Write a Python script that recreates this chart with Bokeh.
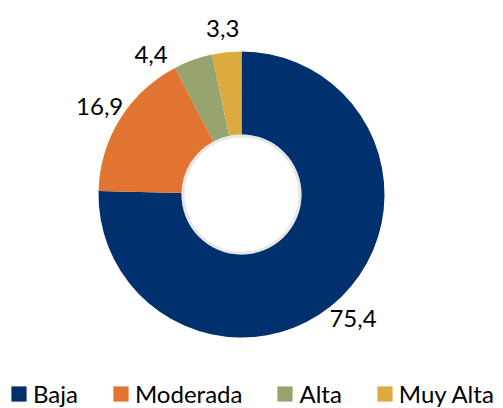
import numpy as np
from bokeh.plotting import figure
from bokeh.models import ColumnDataSource, Legend, LegendItem, Range1d
from bokeh.embed import file_html
from bokeh.resources import INLINE
from bokeh.core.properties import value

categories = ["Baja", "Moderada", "Alta", "Muy Alta"]
values = [75.4, 16.9, 4.4, 3.3]
labels = ["75,4", "16,9", "4,4", "3,3"]
colors = ["#00306E", "#E27431", "#97A46F", "#DDAA3F"]
label_angle_nudge = [-2.4, 0, 13, 0.5]  # degrees, to avoid overlapping labels

W, H = 503, 408
p = figure(width=W, height=H, x_range=Range1d(0, W), y_range=Range1d(0, H),
           output_backend="svg", toolbar_location=None, min_border=0)
p.axis.visible = False
p.grid.visible = False
p.outline_line_color = None
p.background_fill_color = "white"

cx, cy = 241, 214
r_in, r_out, r_lab = 60, 143, 167

frac = np.array(values) / sum(values)
cum = np.concatenate([[0], np.cumsum(frac)])
start = np.pi / 2 - cum[1:] * 2 * np.pi
end = np.pi / 2 - cum[:-1] * 2 * np.pi
mid = (start + end) / 2 + np.radians(label_angle_nudge)

src = ColumnDataSource(dict(
    cat=categories, start=start, end=end, color=colors,
    x=[cx] * len(values), y=[cy] * len(values),
    lx=cx + r_lab * np.cos(mid), ly=cy + r_lab * np.sin(mid), lab=labels,
))

p.annular_wedge(x="x", y="y", inner_radius=r_in, outer_radius=r_out,
                start_angle="start", end_angle="end", direction="anticlock",
                fill_color="color", line_color=None, source=src)

# soft shadow inside the hole
p.annulus(x=cx, y=cy, inner_radius=r_in - 3, outer_radius=r_in, fill_color="#d0d0d0",
          fill_alpha=0.5, line_color=None)

p.text(x="lx", y="ly", text="lab", source=src, text_font=value("Lato"),
       text_font_size="24px", text_align="center", text_baseline="middle",
       text_color="#000000")

items = []
for c, col in zip(categories, colors):
    r = p.quad(left=[np.nan], right=[np.nan], top=[np.nan], bottom=[np.nan],
               fill_color=col, line_color=None)
    items.append(LegendItem(label=c, renderers=[r]))

legend = Legend(items=items, orientation="horizontal", location=(9, 0),
                label_text_font="Lato", label_text_font_size="24px",
                label_text_color="#000000", glyph_width=19, glyph_height=19,
                label_standoff=5, spacing=33, padding=0, margin=0,
                border_line_color=None, background_fill_alpha=0, label_height=24)
p.add_layout(legend, "center")

open("out.html", "w").write(file_html(p, INLINE))
